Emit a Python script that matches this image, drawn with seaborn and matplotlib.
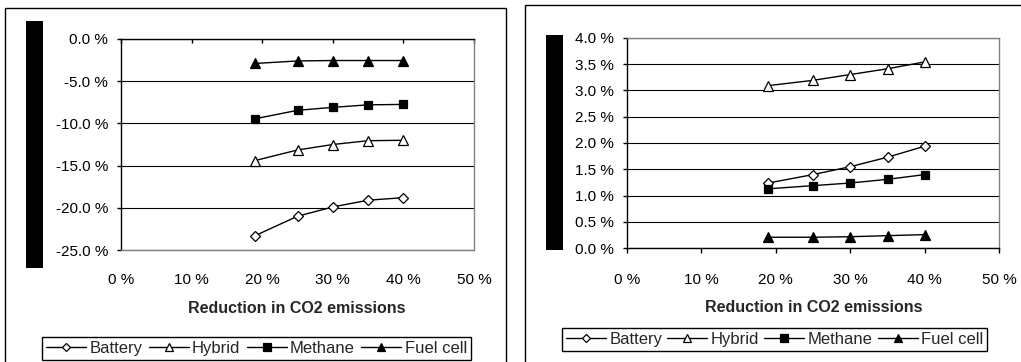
import matplotlib
matplotlib.use("Agg")
import matplotlib.pyplot as plt
from matplotlib.patches import Rectangle
from matplotlib.ticker import FuncFormatter, FixedLocator
import seaborn as sns
import pandas as pd

# ---------------- data ----------------
reduction = [19, 25, 30, 35, 40]          # Reduction in CO2 emissions (%)
series_names = ["Battery", "Hybrid", "Methane", "Fuel cell"]

left_battery = [-23.3, -21.0, -19.9, -19.1, -18.8]
left_hybrid = [-14.4, -13.15, -12.5, -12.05, -12.0]
left_methane = [-9.45, -8.45, -8.1, -7.8, -7.75]
left_fuelcell = [-2.9, -2.6, -2.55, -2.55, -2.55]

right_battery = [1.24, 1.40, 1.55, 1.73, 1.94]
right_hybrid = [3.09, 3.19, 3.30, 3.41, 3.54]
right_methane = [1.13, 1.19, 1.24, 1.31, 1.40]
right_fuelcell = [0.21, 0.21, 0.22, 0.24, 0.26]

left_yticks = [-25, -20, -15, -10, -5, 0]
right_yticks = [0, 0.5, 1.0, 1.5, 2.0, 2.5, 3.0, 3.5, 4.0]
xticks = [0, 10, 20, 30, 40, 50]
xlabel = "Reduction in CO2 emissions"

# ---------------- style ----------------
sns.set_style("white")
plt.rcParams["font.family"] = ["Liberation Sans", "DejaVu Sans"]
plt.rcParams["axes.unicode_minus"] = False

W, H = 1021, 362
fig = plt.figure(figsize=(W / 100, H / 100), dpi=100)

def fx(px):
    return px / W

def fy(py):
    return 1 - py / H

def frect(x0, y0, x1, y1, **kw):
    r = Rectangle((fx(x0), fy(y1)), fx(x1) - fx(x0), fy(y0) - fy(y1),
                  transform=fig.transFigure, **kw)
    fig.add_artist(r)

# outer chart-area boxes
frect(5, 8, 506, 400, fill=False, edgecolor="black", lw=1.0)
frect(525, 5, 1030, 400, fill=False, edgecolor="black", lw=1.0)
# black bars (axis title blocks)
frect(26, 21, 43, 268, facecolor="black", edgecolor="none")
frect(546, 35, 563, 250, facecolor="black", edgecolor="none")

styles = {
    "Battery": dict(marker="D", markerfacecolor="white", markersize=5),
    "Hybrid": dict(marker="^", markerfacecolor="white", markersize=7),
    "Methane": dict(marker="s", markerfacecolor="black", markersize=6),
    "Fuel cell": dict(marker="^", markerfacecolor="black", markersize=7.5),
}

GRAY = "#808080"

def draw_panel(ax, values, yticks, ylim, top_axis):
    for name, vals in zip(series_names, values):
        df = pd.DataFrame({"x": reduction, "y": vals})
        sns.lineplot(data=df, x="x", y="y", ax=ax, color="black", lw=1.0,
                     markeredgecolor="black", markeredgewidth=0.9,
                     label=name, **styles[name])
    if ax.get_legend() is not None:
        ax.get_legend().remove()
    ax.set_xlim(0, 50)
    ax.set_ylim(*ylim)
    ax.xaxis.set_major_locator(FixedLocator(xticks))
    ax.yaxis.set_major_locator(FixedLocator(yticks))
    ax.xaxis.set_major_formatter(FuncFormatter(lambda v, p: f"{v:.0f} %"))
    ax.yaxis.set_major_formatter(FuncFormatter(lambda v, p: f"{v:.1f} %"))
    ax.set_axisbelow(True)
    ax.yaxis.grid(True, color="black", lw=0.8)
    ax.xaxis.grid(False)
    for s in ax.spines.values():
        s.set_linewidth(1.0)
        s.set_visible(True)
    ax.spines["left"].set_color("black")
    ax.spines["right"].set_color(GRAY)
    if top_axis:
        ax.spines["top"].set_color("black")
        ax.spines["bottom"].set_color(GRAY)
        ax.tick_params(axis="x", bottom=False, top=True, labelbottom=True,
                       labeltop=False, direction="in", length=3.2, width=1,
                       pad=16.5, labelsize=11, colors="black")
    else:
        ax.spines["bottom"].set_color("black")
        ax.spines["top"].set_color(GRAY)
        ax.tick_params(axis="x", bottom=True, top=False, direction="out",
                       length=3.6, width=1, pad=14, labelsize=11, colors="black")
    ax.tick_params(axis="y", left=True, direction="out", length=3.2, width=1,
                   pad=6, labelsize=11, colors="black")
    ax.set_ylabel("")
    ax.set_xlabel(xlabel, fontsize=11.5, fontweight="bold")
    ax.set_facecolor("white")

# left panel
axL = fig.add_axes([fx(121), fy(250), fx(474) - fx(121), fy(39) - fy(250)])
draw_panel(axL, [left_battery, left_hybrid, left_methane, left_fuelcell],
           left_yticks, (-25, 0), top_axis=True)
axL.xaxis.set_label_coords(0.497, (fy(301) - fy(250)) / (fy(39) - fy(250)))

# right panel
axR = fig.add_axes([fx(626.7), fy(248.3), fx(999.3) - fx(626.7), fy(37.7) - fy(248.3)])
draw_panel(axR, [right_battery, right_hybrid, right_methane, right_fuelcell],
           right_yticks, (0, 4), top_axis=False)
axR.xaxis.set_label_coords(0.502, (fy(300) - fy(248.3)) / (fy(37.7) - fy(248.3)))

def add_legend(ax, x0, x1, ytop):
    h, l = ax.get_legend_handles_labels()
    leg = fig.legend(h, l, loc="upper left",
                     bbox_to_anchor=(fx(x0), fy(ytop) - 0.5, fx(x1) - fx(x0), 0.5),
                     bbox_transform=fig.transFigure, mode="expand", ncol=4,
                     fontsize=12, frameon=True, fancybox=False, edgecolor="black",
                     framealpha=1, borderaxespad=0, borderpad=0.25,
                     handlelength=2.4, handletextpad=0.2, columnspacing=0.6,
                     markerscale=0.85)
    leg.get_frame().set_linewidth(1.0)
    return leg

add_legend(axL, 42, 471, 336.7)
add_legend(axR, 561.7, 987.3, 328)

fig.savefig("out.png", dpi=100)
